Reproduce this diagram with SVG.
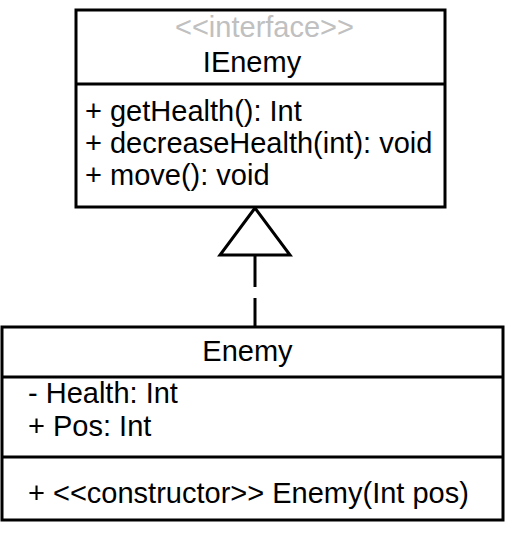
<svg xmlns="http://www.w3.org/2000/svg" width="513" height="545" viewBox="0 0 513 545">
<style>
.box{fill:#fff;stroke:#000;stroke-width:3}
.ln{stroke:#000;stroke-width:3;fill:none}
text{font-family:"Liberation Sans",Arial,sans-serif;font-size:29px;fill:#000}
.c{text-anchor:middle}
.st{fill:#c0c0c0}
</style>
<g id="connectors">
<line class="ln" x1="255" y1="255" x2="255" y2="327" stroke-dasharray="32,11"/>
<polygon class="ln" points="255,208 220,255 290,255" fill="#fff"/>
</g>
<g id="IEnemy">
<rect class="box" x="76" y="10" width="369" height="197"/>
<line class="ln" x1="76" y1="84" x2="445" y2="84"/>
<text class="c st" x="264.5" y="37">&lt;&lt;interface&gt;&gt;</text>
<text class="c" x="252" y="72">IEnemy</text>
<text x="85" y="121">+ getHealth(): Int</text>
<text x="85" y="153">+ decreaseHealth(int): void</text>
<text x="85" y="185">+ move(): void</text>
</g>
<g id="Enemy">
<rect class="box" x="2" y="327" width="501" height="193"/>
<line class="ln" x1="2" y1="377" x2="503" y2="377"/>
<line class="ln" x1="2" y1="457" x2="503" y2="457"/>
<text class="c" x="247.5" y="361">Enemy</text>
<text x="28" y="403">- Health: Int</text>
<text x="28" y="436">+ Pos: Int</text>
<text x="28" y="503">+ &lt;&lt;constructor&gt;&gt; Enemy(Int pos)</text>
</g>
</svg>
